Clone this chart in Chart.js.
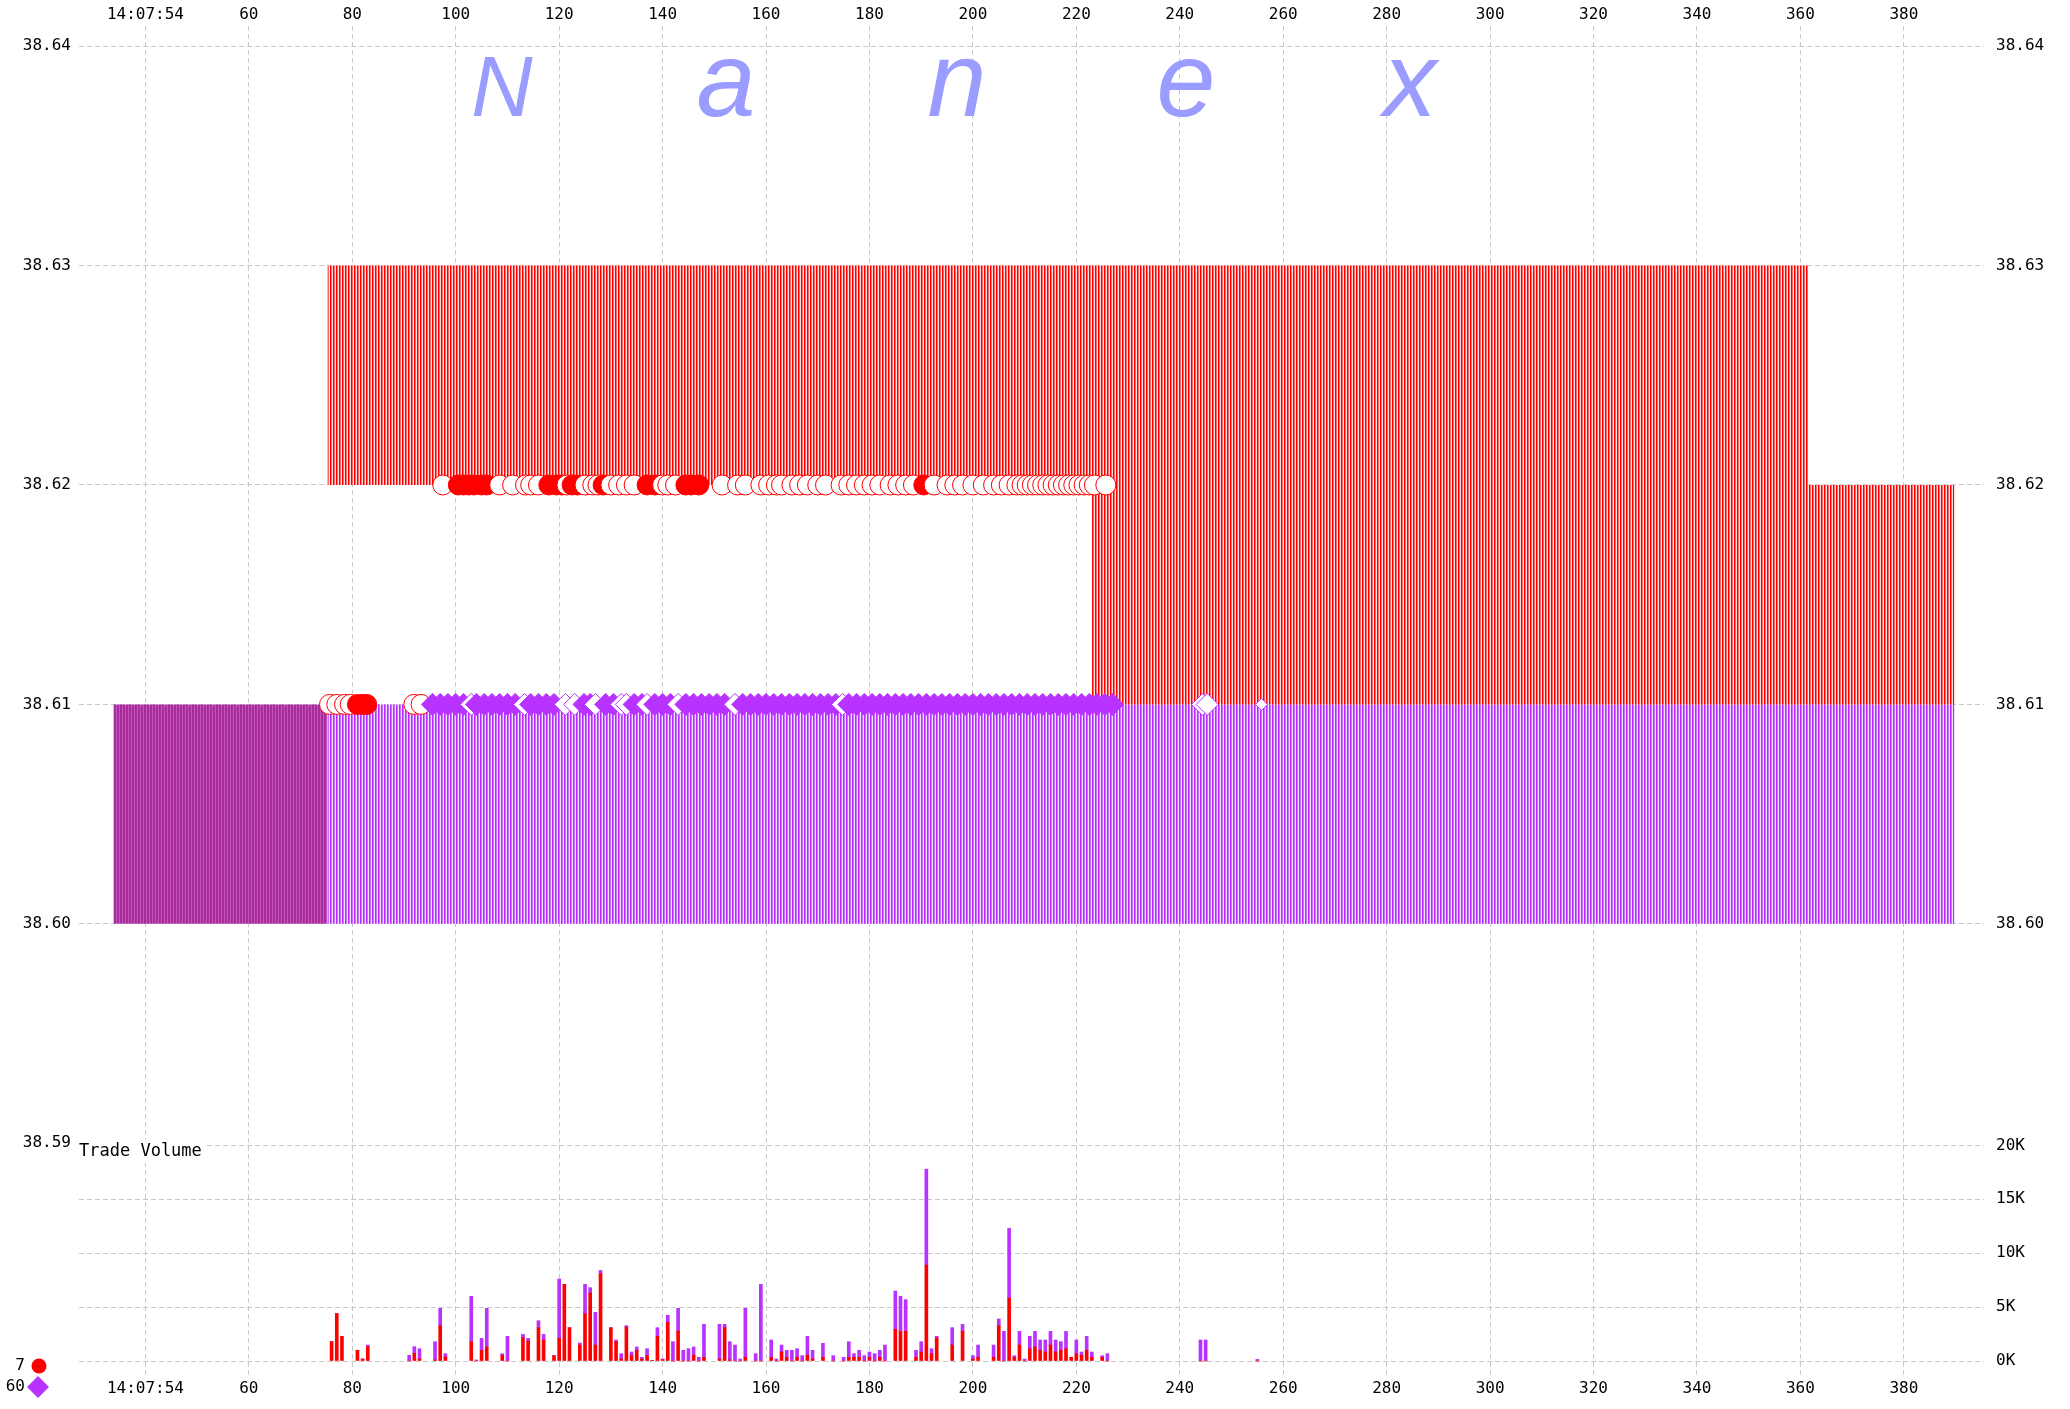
<!DOCTYPE html>
<html>
<head>
<meta charset="utf-8">
<script src="https://cdn.jsdelivr.net/npm/chart.js@4.4.1/dist/chart.umd.min.js"></script>
<style>
html,body{margin:0;padding:0;background:#ffffff;}
#wrap{width:2070px;height:1409px;position:relative;}
</style>
</head>
<body>
<div id="wrap"><canvas id="c" width="2070" height="1409"></canvas></div>
<script>
// ---------------- DATA ----------------
const xTickValues = [40,60,80,100,120,140,160,180,200,220,240,260,280,300,320,340,360,380];
const xTickLabels = ['14:07:54','60','80','100','120','140','160','180','200','220','240','260','280','300','320','340','360','380'];
const priceTicksLeft  = [38.59,38.60,38.61,38.62,38.63,38.64];
const priceTicksRight = [38.60,38.61,38.62,38.63,38.64];
const volumeTicks      = [0,5000,10000,15000,20000];
const volumeTickLabels = ['0K','5K','10K','15K','20K'];

// Ask (red) quote band, as step segments
const askSegStart = [75.2, 223.0, 361.5];
const askSegEnd   = [223.0, 361.5, 389.8];
const askSegHigh  = [38.63, 38.63, 38.62];
const askSegLow   = [38.62, 38.61, 38.61];
// Bid (purple) quote band
const bidSegStart = [75.2];
const bidSegEnd   = [389.8];
const bidSegHigh  = [38.61];
const bidSegLow   = [38.60];
// Locked (overlapping red + purple) band
const lockSegStart = [33.8];
const lockSegEnd   = [75.2];
const lockSegHigh  = [38.61];
const lockSegLow   = [38.60];

// Trade volume per second: red part and purple part
const volTimes  = [76,77,78,81,82,83,91,92,93,96,97,98,103,104,105,106,109,110,113,114,116,117,119,120,121,122,124,125,126,127,128,130,131,132,133,134,135,136,137,138,139,140,141,142,143,144,145,146,147,148,151,152,153,154,155,156,158,159,161,162,163,164,165,166,167,168,169,171,173,175,176,177,178,179,180,181,182,183,185,186,187,189,190,191,192,193,196,198,200,201,204,205,206,207,208,209,210,211,212,213,214,215,216,217,218,219,220,221,222,223,225,226,244,245,255];
const volRed    = [1800,4400,2290,990,185,1330,0,710,185,100,3280,370,1790,0,990,1300,525,0,2160,1855,3090,1950,495,2100,7110,3090,1480,4390,6300,1480,8100,3090,1790,185,3150,495,990,185,495,60,2290,120,3590,0,2780,0,0,525,0,340,185,3090,100,0,0,340,0,0,340,0,835,340,0,340,0,525,185,340,0,0,340,340,340,0,340,0,340,0,2940,2750,2750,340,835,8900,680,2130,1480,2750,185,340,340,3280,0,5840,340,1480,0,1140,1300,990,835,1480,835,990,1140,340,680,525,990,340,340,0,0,0,0];
const volPurple = [0,0,0,0,0,150,525,620,955,1690,1605,310,4210,100,1110,3585,155,2290,310,245,650,520,0,5500,0,0,190,2720,500,3030,300,0,160,495,130,340,310,155,645,0,800,65,650,1790,2105,990,1140,775,340,3060,3215,310,1690,1480,185,4545,680,7110,1610,185,645,650,990,800,495,1765,805,1300,495,340,1450,340,650,495,495,680,650,1480,3550,3250,2940,650,955,8900,460,160,1610,650,310,1140,1140,620,2750,6460,155,1270,185,1150,1450,960,1115,1270,1115,800,1610,0,1270,310,1300,495,155,680,1950,1950,150];

// Red trades (circles): at 38.61 and at 38.62, 1 = filled, 0 = hollow
const redTradePriceLow  = 38.61;
const redTradeTimesLow  = [75.6,77.0,78.5,79.6,81.0,82.0,82.8,91.9,93.3];
const redTradeFilledLow = [0,0,0,0,1,1,1,0,0];
const redTradePriceHigh  = 38.62;
const redTradeTimesHigh  = [97.5,100.5,101.5,102.5,103.5,105,106,108.5,111,113.5,114.5,116,118,119.5,120.5,121.5,122.5,123.5,125,126.5,127.5,128.5,130,131.5,133,134.5,137,138.5,140,141,142.5,144.5,145.5,147,151.5,154.5,156,159,160.5,162,163,165,166.5,168,170,171.5,174.5,176,177.5,179,180.5,182,184,185.5,187,188.5,190.5,192.5,195,196.5,198,200,202,204,205.5,207,208.5,209.5,210.5,211.5,212.5,213.5,214.5,215.5,216.5,217.5,218.5,219.5,220.5,221.5,222.5,223.5,225.7];
const redTradeFilledHigh = [0,1,1,1,1,1,1,0,0,0,0,0,1,1,1,0,1,1,0,0,0,1,0,0,0,0,1,1,0,0,0,1,1,1,0,0,0,0,0,0,0,0,0,0,0,0,0,0,0,0,0,0,0,0,0,0,1,0,0,0,0,0,0,0,0,0,0,0,0,0,0,0,0,0,0,0,0,0,0,0,0,0,0];

// Purple trades (diamonds) at 38.61
const purpleTradePrice  = 38.61;
const purpleTradeTimes  = [95.5,97,98.5,100,101.5,103,104,105.5,107,108.5,110,111.5,113.3,114.5,116,117.5,119,121.2,123,124.8,126,127,129,130.5,132,133,134.5,136,137,138.5,140,141.5,143,144.5,146,147.5,149,150.5,152,154,155.5,157,158.5,160,161.5,163,164.5,166,167.5,169,170.5,172,173.5,174.8,176,177.5,179,180.5,182,183.5,185,186.5,188,189.5,191,192.5,194,195.5,197,198.5,200,201.5,203,204.5,206,207.5,209,210.5,212,213.5,215,216.5,218,219.5,221,222.5,224,225.5,227,244.4,245.3,255.8];
const purpleTradeFilled = [1,1,1,1,1,0,1,1,1,1,1,1,0,1,1,1,1,0,0,1,1,0,1,1,0,0,1,1,0,1,1,1,0,1,1,1,1,1,1,0,1,1,1,1,1,1,1,1,1,1,1,1,1,0,1,1,1,1,1,1,1,1,1,1,1,1,1,1,1,1,1,1,1,1,1,1,1,1,1,1,1,1,1,1,1,1,1,1,1,0,0,0];

const legendCounts = ['7','60'];
const watermarkLetters = ['N','a','n','e','x'];
const volumeTitle = 'Trade Volume';

// ---------------- STYLE ----------------
const RED = '#ff0000';
const PURPLE = '#b833ff';
const GRID = '#c8c8c8';
const TICK_FONT = {family: '"DejaVu Sans Mono", monospace', size: 16};

const mainCtx = document.getElementById('c').getContext('2d');
function stripes(cols) {
  const c = document.createElement('canvas');
  c.width = cols.length; c.height = 1;
  const g = c.getContext('2d');
  cols.forEach((col, i) => { g.fillStyle = col; g.fillRect(i, 0, 1, 1); });
  return mainCtx.createPattern(c, 'repeat');
}
const redHatch    = stripes(['#ff0000', '#ff6b6b', '#ffe0e0']);
const purpleHatch = stripes(['#b52eff', '#cc70ff', '#f2e4ff']);
const lockHatch   = stripes(['#a52a97', '#aa2e9b', '#c254c0']);

function bands(starts, ends, highs, lows, pattern) {
  return starts.map((s, i) => ({
    type: 'line',
    data: [{x: s, y: highs[i]}, {x: ends[i], y: highs[i]}],
    borderWidth: 0,
    borderColor: 'rgba(0,0,0,0)',
    pointRadius: 0,
    fill: {value: lows[i]},
    backgroundColor: pattern,
    tension: 0,
    order: 10,
    xAxisID: 'x', yAxisID: 'y'
  }));
}

const datasets = [
  {
    type: 'scatter',
    data: purpleTradeTimes.map(t => ({x: t, y: purpleTradePrice})),
    pointStyle: 'rectRot',
    pointRadius: c => (c.raw && c.raw.x > 250 ? 6 : 11),
    pointBackgroundColor: purpleTradeFilled.map(f => f ? PURPLE : '#ffffff'),
    pointBorderColor: PURPLE,
    pointBorderWidth: 1,
    order: 0,
    xAxisID: 'x', yAxisID: 'y'
  },
  {
    type: 'scatter',
    data: redTradeTimesHigh.map(t => ({x: t, y: redTradePriceHigh})),
    pointStyle: 'circle',
    pointRadius: 10,
    pointBackgroundColor: redTradeFilledHigh.map(f => f ? RED : '#ffffff'),
    pointBorderColor: RED,
    pointBorderWidth: 1,
    order: 1,
    xAxisID: 'x', yAxisID: 'y'
  },
  {
    type: 'scatter',
    data: redTradeTimesLow.map(t => ({x: t, y: redTradePriceLow})),
    pointStyle: 'circle',
    pointRadius: 10,
    pointBackgroundColor: redTradeFilledLow.map(f => f ? RED : '#ffffff'),
    pointBorderColor: RED,
    pointBorderWidth: 1,
    order: 1,
    xAxisID: 'x', yAxisID: 'y'
  },
  {
    type: 'bar',
    data: volTimes.map((t, i) => ({x: t, y: volRed[i]})),
    backgroundColor: RED,
    borderWidth: 0,
    barThickness: 3,
    stack: 'vol',
    order: 5,
    xAxisID: 'x', yAxisID: 'yv'
  },
  {
    type: 'bar',
    data: volTimes.map((t, i) => ({x: t, y: volPurple[i]})),
    backgroundColor: PURPLE,
    borderWidth: 0,
    barThickness: 3,
    stack: 'vol',
    order: 5,
    xAxisID: 'x', yAxisID: 'yv'
  },
  ...bands(askSegStart, askSegEnd, askSegHigh, askSegLow, redHatch),
  ...bands(bidSegStart, bidSegEnd, bidSegHigh, bidSegLow, purpleHatch),
  ...bands(lockSegStart, lockSegEnd, lockSegHigh, lockSegLow, lockHatch)
];

const X_MIN = 27.16, X_MAX = 395.5;
const P_MIN = 38.57939, P_MAX = 38.64092;
const V_MIN = -1391, V_MAX = 123840;
const RIGHT_AXIS_W = 86;

const overlayPlugin = {
  id: 'overlay',
  afterLayout(chart) {
    // volume axis shares the right-hand label column with the price axis
    const yv = chart.scales.yv;
    yv.right = yv.left + RIGHT_AXIS_W;
    yv.width = RIGHT_AXIS_W;
  },
  beforeDatasetsDraw(chart) {
    const ctx = chart.ctx;
    ctx.save();
    // watermark
    ctx.fillStyle = '#9a9cff';
    ctx.textAlign = 'center';
    ctx.textBaseline = 'alphabetic';
    const xs = [502, 726, 957, 1186, 1410];
    watermarkLetters.forEach((ch, i) => {
      ctx.font = (i === 0 ? 'italic 85px' : 'italic 106px') + ' "Liberation Sans", sans-serif';
      ctx.fillText(ch, xs[i], 116);
    });
    // Trade Volume title on white box
    ctx.fillStyle = '#ffffff';
    ctx.fillRect(chart.chartArea.left, 1139, 126, 24);
    ctx.fillStyle = '#000000';
    ctx.textAlign = 'left';
    ctx.textBaseline = 'middle';
    ctx.font = '17px "DejaVu Sans Mono", monospace';
    ctx.fillText(volumeTitle, chart.chartArea.left, 1152);
    ctx.restore();
  },
  afterDraw(chart) {
    const ctx = chart.ctx;
    ctx.save();
    ctx.font = '16px "DejaVu Sans Mono", monospace';
    ctx.fillStyle = '#000000';
    ctx.textAlign = 'right';
    ctx.textBaseline = 'middle';
    ctx.fillText(legendCounts[0], 25, 1366);
    ctx.fillText(legendCounts[1], 25, 1387);
    ctx.fillStyle = RED;
    ctx.beginPath(); ctx.arc(39, 1366, 7.5, 0, Math.PI * 2); ctx.fill();
    ctx.fillStyle = PURPLE;
    ctx.beginPath();
    ctx.moveTo(38, 1376); ctx.lineTo(49, 1387); ctx.lineTo(38, 1398); ctx.lineTo(27, 1387); ctx.closePath();
    ctx.fill();
    ctx.restore();
  }
};

const gridCommon = {color: GRID, lineWidth: 1, drawTicks: false, offset: false};
const borderCommon = {display: false, dash: [5, 3]};

new Chart(mainCtx, {
  type: 'scatter',
  data: {datasets},
  options: {
    responsive: false,
    maintainAspectRatio: false,
    animation: false,
    events: [],
    layout: {padding: 0, autoPadding: false},
    plugins: {legend: {display: false}, tooltip: {enabled: false}, title: {display: false}},
    scales: {
      x: {
        type: 'linear', position: 'top', min: X_MIN, max: X_MAX, offset: false,
        grid: gridCommon, border: borderCommon,
        ticks: {font: TICK_FONT, color: '#000', padding: 2, maxRotation: 0, autoSkip: false,
          callback: v => { const i = xTickValues.indexOf(v); return i >= 0 ? xTickLabels[i] : ''; }},
        afterBuildTicks: s => { s.ticks = xTickValues.map(v => ({value: v})); },
        afterFit: s => { s.height = 26; }
      },
      x2: {
        type: 'linear', position: 'bottom', min: X_MIN, max: X_MAX, offset: false,
        grid: {display: false, drawTicks: false, offset: false}, border: {display: false},
        ticks: {font: TICK_FONT, color: '#000', padding: 3, maxRotation: 0, autoSkip: false,
          callback: v => { const i = xTickValues.indexOf(v); return i >= 0 ? xTickLabels[i] : ''; }},
        afterBuildTicks: s => { s.ticks = xTickValues.map(v => ({value: v})); },
        afterFit: s => { s.height = 33; }
      },
      y: {
        type: 'linear', position: 'left', min: P_MIN, max: P_MAX, stacked: false,
        grid: {color: c => (c.tick && Math.abs(c.tick.value - 38.59) < 1e-6 ? 'rgba(0,0,0,0)' : GRID), lineWidth: 1, drawTicks: false},
        border: borderCommon,
        ticks: {font: TICK_FONT, color: '#000', padding: 8, callback: v => Number(v).toFixed(2)},
        afterBuildTicks: s => { s.ticks = priceTicksLeft.map(v => ({value: v})); },
        afterFit: s => { s.width = 79; }
      },
      yv: {
        type: 'linear', position: 'right', min: V_MIN, max: V_MAX, stacked: true, weight: 0,
        grid: gridCommon, border: borderCommon,
        ticks: {font: TICK_FONT, color: '#000', padding: 12,
          callback: v => { const i = volumeTicks.indexOf(v); return i >= 0 ? volumeTickLabels[i] : ''; }},
        afterBuildTicks: s => { s.ticks = volumeTicks.map(v => ({value: v})); },
        afterFit: s => { s.width = 0; }
      },
      yr: {
        type: 'linear', position: 'right', min: P_MIN, max: P_MAX, weight: 1,
        grid: {display: false, drawTicks: false}, border: {display: false},
        ticks: {font: TICK_FONT, color: '#000', padding: 12, callback: v => Number(v).toFixed(2)},
        afterBuildTicks: s => { s.ticks = priceTicksRight.map(v => ({value: v})); },
        afterFit: s => { s.width = RIGHT_AXIS_W; }
      }
    }
  },
  plugins: [overlayPlugin]
});
</script>
</body>
</html>
